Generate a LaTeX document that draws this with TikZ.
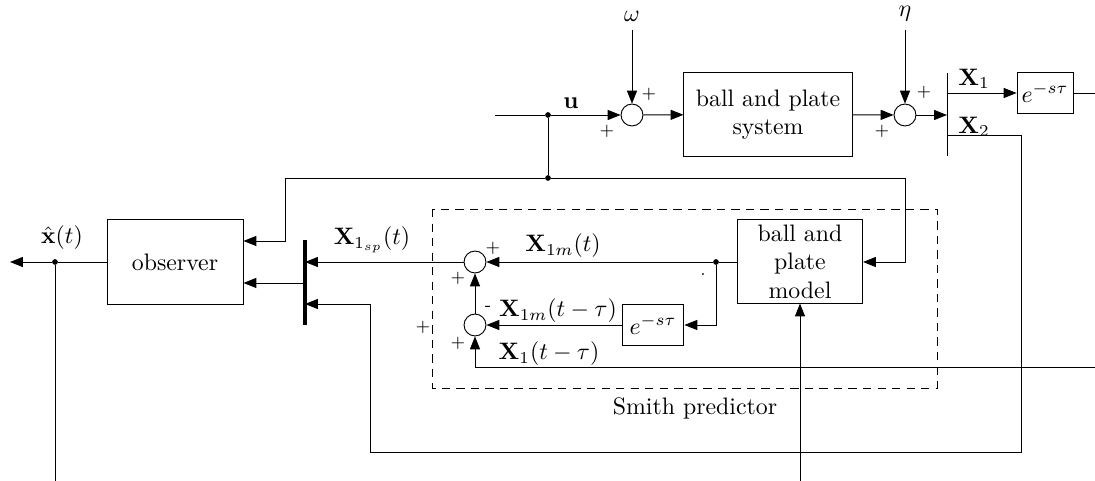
\documentclass[tikz,border=0pt]{standalone}
\usetikzlibrary{arrows.meta}
\begin{document}
\begin{tikzpicture}[x=0.42pt,y=-0.42pt,
  blk/.style={draw, inner sep=0pt, align=center},
  sumc/.style={draw, circle, minimum size=9.2pt, inner sep=0pt},
  arr/.style={-{Triangle[length=5.4pt,width=4.2pt]}},
  pm/.style={font=\scriptsize, inner sep=0pt},
  lbl/.style={inner sep=0pt},
  dot/.style={circle, fill, inner sep=0pt, minimum size=2.4pt},
  line width=0.4pt]
\useasboundingbox (0,0) rectangle (1095,481);

% blocks
\node[blk, minimum width=70.6pt, minimum height=34.9pt] (sys) at (768,114.5) {ball and plate\\system};
\node[blk, minimum width=23.5pt, minimum height=17.6pt] (d1) at (1045,93) {$e^{-s\tau}$};
\node[blk, minimum width=57.1pt, minimum height=35.3pt] (obs) at (175,262) {observer};
\node[blk, minimum width=52.5pt, minimum height=34.9pt] (mod) at (800,261.5) {ball and\\plate\\model};
\node[blk, minimum width=26pt, minimum height=17.6pt] (d2) at (653,325) {$e^{-s\tau}$};

% summing junctions
\node[sumc] (s1) at (632,115) {};
\node[sumc] (s2) at (905,115) {};
\node[sumc] (s3) at (475,262) {};
\node[sumc] (s4) at (475,325) {};

% points
\coordinate (in) at (495,115);
\node[dot] (ju) at (548,115) {};
\node[dot] (jb) at (548,178) {};
\coordinate (wt) at (632,30);
\coordinate (et) at (905,30);
\coordinate (b1t) at (947,73);
\coordinate (b1b) at (947,156);
\coordinate (b1in) at (947,115);
\coordinate (b1x1) at (947,93);
\coordinate (b1x2) at (947,135);
\coordinate (out1) at (1095,93);
\coordinate (r1) at (1021,452);
\coordinate (r2) at (370,304);
\coordinate (b2t) at (305,240);
\coordinate (b2b) at (305,325);
\coordinate (b2a) at (305,262);
\coordinate (b2o) at (305,283);
\coordinate (b2c) at (305,304);
\coordinate (k) at (285,241);
\coordinate (mr) at (905,262);
\node[dot] (jx) at (55,262) {};
\coordinate (xo) at (10,262);
\coordinate (xb) at (55,481);
\node[dot] (jm) at (716,262) {};
\coordinate (x1in) at (1095,367);
\coordinate (mb) at (800,481);

% bars
\draw (b1t) -- (b1b);
\draw[line width=1.4pt] (b2t) -- (b2b);

% connectors
\draw (in) -- (ju);
\draw[arr] (ju) -- (s1);
\draw[arr] (wt) -- (s1);
\draw[arr] (s1) -- (sys);
\draw[arr] (sys) -- (s2);
\draw[arr] (et) -- (s2);
\draw[arr] (s2) -- (b1in);
\draw[arr] (b1x1) -- (d1);
\draw (d1) -- (out1);
\draw[arr] (b1x2) -| (r1) -| (r2) -- (b2c);
\draw (ju) -- (jb);
\draw[arr] (jb) -| (k) -- (obs.east |- k);
\draw[arr] (jb) -| (mr) -- (mod.east |- mr);
\draw[arr] (b2o) -- (obs.east |- b2o);
\draw (obs.west |- jx) -- (jx);
\draw[arr] (jx) -- (xo);
\draw (jx) -- (xb);
\draw (mod.west |- jm) -- (jm);
\draw[arr] (jm) -- (s3);
\draw[arr] (jm) |- (d2.east);
\draw[arr] (d2) -- (s4);
\draw[arr] (s4) -- (s3);
\draw[arr] (x1in) -| (s4.south);
\draw[arr] (mb) -- (mod.south);
\draw[arr] (s3) -- (b2a);

% Smith predictor frame
\draw[dash pattern=on 3.5pt off 2.6pt] (432,209) rectangle (937,388);
\node[lbl] at (695,408) {Smith predictor};

% labels
\node[lbl] at (632,16) {$\omega$};
\node[lbl] at (905,14) {$\eta$};
\node[lbl] at (571,103) {$\mathbf{u}$};
\node[pm] at (607,131) {$+$};
\node[pm] at (649,94) {$+$};
\node[pm] at (882,131) {$+$};
\node[pm] at (924,92) {$+$};
\node[lbl] at (974,79) {$\mathbf{X}_1$};
\node[lbl] at (974,127) {$\mathbf{X}_2$};
\node[lbl] at (62,238) {$\hat{\mathbf{x}}(t)$};
\node[lbl] at (372,240) {$\mathbf{X}_{1_{sp}}(t)$};
\node[lbl] at (563,246) {$\mathbf{X}_{1m}(t)$};
\node[lbl] at (558,311) {$\mathbf{X}_{1m}(t-\tau)$};
\node[lbl] at (549,354) {$\mathbf{X}_1(t-\tau)$};
\node[pm] at (493,248) {$+$};
\node[pm] at (458,278) {$+$};
\node[pm] at (488,308) {-};
\node[pm] at (458,343) {$+$};
\node[pm] at (423,327) {$+$};
\node[pm] at (703,275) {.};
\end{tikzpicture}
\end{document}
